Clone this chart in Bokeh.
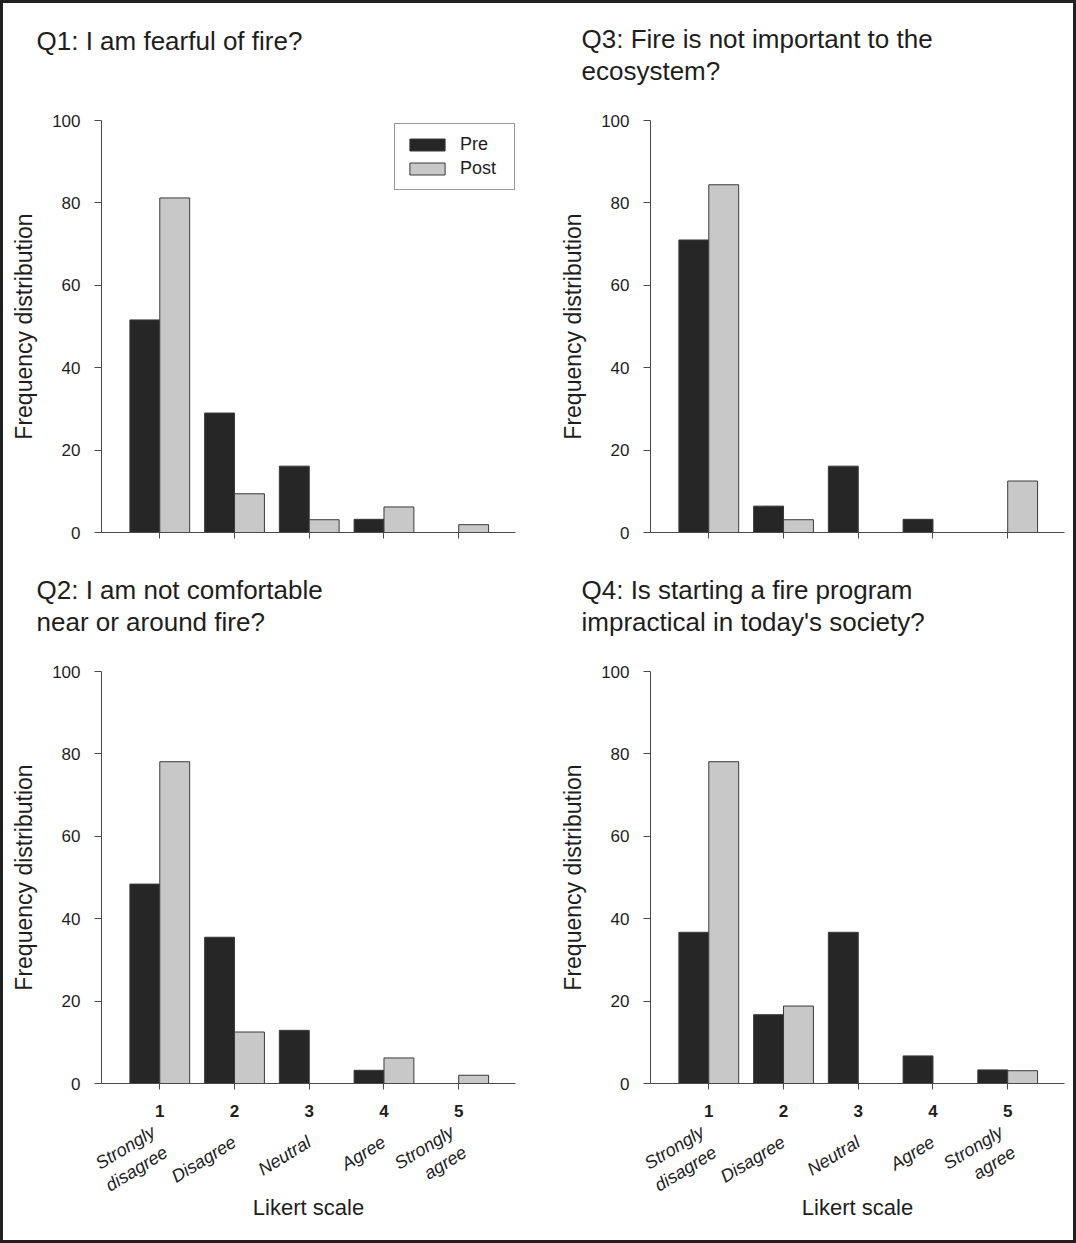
from bokeh.plotting import figure
from bokeh.layouts import gridplot
from bokeh.models import Range1d, FixedTicker, LinearAxis, Title, Legend, ColumnDataSource
from bokeh.transform import dodge
from bokeh.embed import file_html
from bokeh.resources import INLINE

# ---------------- data ----------------
likert = [1, 2, 3, 4, 5]
likert_labels = ["Strongly\ndisagree", "Disagree", "Neutral", "Agree", "Strongly\nagree"]
y_ticks = [0, 20, 40, 60, 80, 100]

q1_title = ["Q1: I am fearful of fire?"]
q1_pre = [51.6, 29.0, 16.1, 3.2, 0.0]
q1_post = [81.2, 9.4, 3.1, 6.2, 1.9]

q2_title = ["Q2: I am not comfortable", "near or around fire?"]
q2_pre = [48.4, 35.5, 12.9, 3.2, 0.0]
q2_post = [78.1, 12.5, 0.0, 6.2, 2.0]

q3_title = ["Q3: Fire is not important to the", "ecosystem?"]
q3_pre = [71.0, 6.4, 16.1, 3.2, 0.0]
q3_post = [84.4, 3.1, 0.0, 0.0, 12.5]

q4_title = ["Q4: Is starting a fire program", "impractical in today's society?"]
q4_pre = [36.7, 16.7, 36.7, 6.7, 3.3]
q4_post = [78.1, 18.8, 0.0, 0.0, 3.1]

# ---------------- style ----------------
FONT = "Liberation Sans"
TXT = "#1e1e1e"
AX = "#4a4a4a"
PRE_C = "#262626"
POST_C = "#c8c8c8"
EDGE = "#3a3a3a"
TITLE_SIZE = "26px"
FRAME = 3  # width of the dark outer frame


def make_title(text, standoff, offset):
    return Title(text=text, align="left", offset=offset, standoff=standoff,
                 text_font=FONT, text_font_size=TITLE_SIZE,
                 text_font_style="normal", text_color=TXT)


def make_panel(title_lines, pre, post, is_left, is_bottom, with_legend):
    p = figure(frame_width=414, frame_height=412,
               x_range=Range1d(0.22, 5.76), y_range=Range1d(0, 100),
               output_backend="svg", toolbar_location=None,
               min_border_left=(101 - FRAME) if is_left else 104,
               min_border_right=31 if is_left else 9,
               min_border_top=(120 - FRAME) if not is_bottom else 120,
               min_border_bottom=157 if is_bottom else 19)
    p.outline_line_color = None
    p.grid.visible = False
    p.background_fill_color = "white"
    p.border_fill_color = "white"

    # titles: a blank spacer sits next to the frame, then the lines outward;
    # p.title holds the first (outermost) line
    t_off = -65 if is_left else -69
    p.add_layout(make_title(" ", 33 if len(title_lines) == 1 else 3, t_off), "above")
    for line in reversed(title_lines[1:]):
        p.add_layout(make_title(line, 0, t_off), "above")
    p.title.text = title_lines[0]
    p.title.align = "left"
    p.title.offset = t_off
    p.title.standoff = 0
    p.title.text_font = FONT
    p.title.text_font_size = TITLE_SIZE
    p.title.text_font_style = "normal"
    p.title.text_color = TXT

    src = ColumnDataSource(dict(x=likert, pre=pre, post=post))
    r_pre = p.vbar(x=dodge("x", -0.2, range=p.x_range), top="pre", width=0.4, source=src,
                   fill_color=PRE_C, line_color=EDGE, line_width=1)
    r_post = p.vbar(x=dodge("x", 0.2, range=p.x_range), top="post", width=0.4, source=src,
                    fill_color=POST_C, line_color=EDGE, line_width=1)

    # y axis
    ya = p.yaxis[0]
    ya.ticker = FixedTicker(ticks=y_ticks)
    ya.axis_label = "Frequency distribution"
    ya.axis_label_text_font = FONT
    ya.axis_label_text_font_size = "23px"
    ya.axis_label_text_font_style = "normal"
    ya.axis_label_text_color = TXT
    ya.axis_label_standoff = 12
    ya.major_label_text_font = FONT
    ya.major_label_text_font_size = "17px"
    ya.major_label_text_color = TXT
    ya.major_label_standoff = 14
    ya.major_tick_out = 7
    ya.major_tick_in = 0
    ya.minor_tick_out = 0
    ya.minor_tick_in = 0
    ya.axis_line_color = AX
    ya.major_tick_line_color = AX

    # x axis
    xa = p.xaxis[0]
    xa.ticker = FixedTicker(ticks=likert)
    xa.major_tick_out = 6
    xa.major_tick_in = 0
    xa.minor_tick_out = 0
    xa.minor_tick_in = 0
    xa.axis_line_color = AX
    xa.major_tick_line_color = AX
    xa.major_label_text_font = FONT
    xa.major_label_text_color = TXT
    if is_bottom:
        xa.major_label_text_font_size = "17px"
        xa.major_label_text_font_style = "bold"
        xa.major_label_standoff = 15
        ax2 = LinearAxis(ticker=FixedTicker(ticks=likert),
                         major_label_overrides={k: lab for k, lab in zip(likert, likert_labels)},
                         major_label_orientation=0.55,
                         major_label_text_font=FONT,
                         major_label_text_font_size="18px",
                         major_label_text_font_style="italic",
                         major_label_text_color=TXT,
                         major_label_standoff=21,
                         axis_line_color=None,
                         major_tick_line_color=None,
                         minor_tick_line_color=None,
                         major_tick_out=0, major_tick_in=0,
                         minor_tick_out=0, minor_tick_in=0,
                         axis_label="Likert scale",
                         axis_label_text_font=FONT,
                         axis_label_text_font_size="22px",
                         axis_label_text_font_style="normal",
                         axis_label_text_color=TXT,
                         axis_label_standoff=-22)
        p.add_layout(ax2, "below")
    else:
        xa.major_label_overrides = {k: "" for k in likert}
        xa.major_label_text_font_size = "1px"
        xa.major_label_standoff = 0

    if with_legend:
        leg = Legend(items=[("Pre", [r_pre]), ("Post", [r_post])],
                     location=(293, 342), margin=0, padding=10, spacing=3,
                     glyph_width=44, glyph_height=15, label_height=20, label_width=44,
                     label_standoff=11, label_text_font=FONT,
                     label_text_font_size="18px", label_text_color=TXT,
                     border_line_color="#333333", border_line_width=1,
                     background_fill_color="white", background_fill_alpha=1.0)
        p.add_layout(leg)
    return p


p1 = make_panel(q1_title, q1_pre, q1_post, True, False, True)
p3 = make_panel(q3_title, q3_pre, q3_post, False, False, False)
p2 = make_panel(q2_title, q2_pre, q2_post, True, True, False)
p4 = make_panel(q4_title, q4_pre, q4_post, False, True, False)

grid = gridplot([[p1, p3], [p2, p4]], toolbar_location=None)
grid.styles = {"border": f"{FRAME}px solid #202020", "background-color": "white"}

open("out.html", "w").write(file_html(grid, INLINE))
